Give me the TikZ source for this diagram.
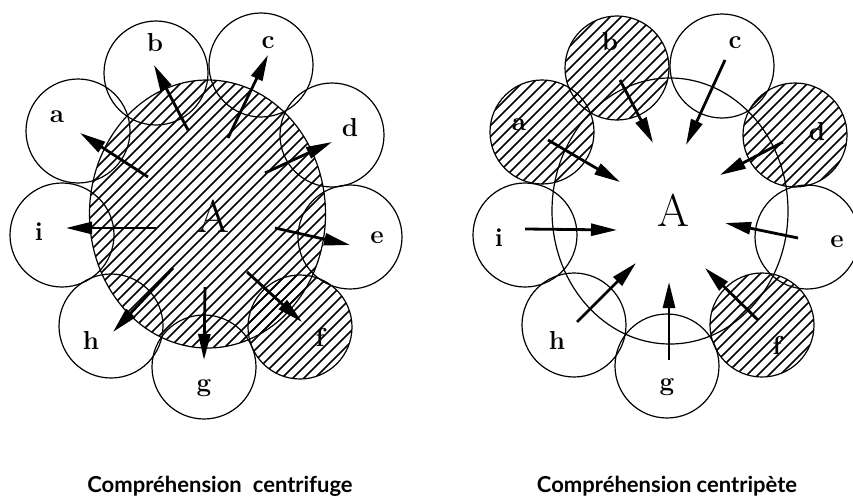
\documentclass[tikz,border=0pt]{standalone}
\usepackage{fontspec}
\newfontfamily\capfont{Lato}
\usetikzlibrary{arrows.meta}
% hatch lines x+y = 11k (45 degrees), clipped by the current scope
\newcommand\hatchlines[4]{%
  \foreach \k in {#1,...,#2}{\draw[hatchline] ({11*\k-(#3)},#3) -- ({11*\k-(#4)},#4);}}
\begin{document}
\begin{tikzpicture}[x=1pt,y=-1pt,
  ring/.style={draw,circle,line width=1.2pt,minimum size=104pt,inner sep=0pt},
  hatchline/.style={line width=1.5pt},
  lbl/.style={font=\bfseries\fontsize{26}{26}\selectfont,inner sep=0pt},
  bigA/.style={font=\fontsize{46}{46}\selectfont,inner sep=0pt},
  arr/.style={line width=2.8pt,-{Triangle[length=26pt,width=12pt]}},
  captext/.style={font=\capfont\bfseries\fontsize{22}{22}\selectfont,inner sep=0pt}]
\useasboundingbox (0,0) rectangle (853,503);

% ---------------- left : centrifuge ----------------
\begin{scope}
  \clip (207.5,214) ellipse [x radius=118, y radius=134];
  \hatchlines{13}{63}{76}{352}
\end{scope}
\begin{scope}
  \clip (300,327) circle (52);
  \hatchlines{48}{66}{272}{382}
\end{scope}
\draw[line width=1.2pt] (207.5,214) ellipse [x radius=118, y radius=134];
\foreach \n/\x/\y in {a/78/131,b/156/73,c/261/65,d/332/135,e/350/237,f/300/327,g/204/367,h/111/326,i/62/235}
  \node[ring] (L\n) at (\x,\y) {};
\foreach \n/\sx/\sy/\ex/\ey in {a/148/177/80/133, b/188/130/154/65, c/228/138/268/55, d/265/173/332/142, e/275/228/350/245, f/247/272/302/322, g/205/287/204/360, h/173/268/113/332, i/156/228/66/228}{
  \coordinate (Ls\n) at (\sx,\sy);
  \coordinate (Le\n) at (\ex,\ey);
  \draw[arr] (Ls\n) -- (Le\n);
}
\foreach \n/\x/\y in {a/57/117,b/155/43,c/268/43,d/350/128,e/377/238,f/320/337,g/204/388,h/91/340,i/39/232}
  \node[lbl] (Lt\n) at (\x,\y) {\n};
\node[bigA] (LA) at (213,216) {A};
\node[captext] (Lcap) at (220,486) {Compréhension\enspace centrifuge};

% ---------------- right : centripete ----------------
\foreach \x/\y/\ka/\kb in {542/132/52/70,617/68/53/71,795/135/75/93,762/325/89/108}{
  \begin{scope}
    \clip (\x,\y) circle (52);
    \hatchlines{\ka}{\kb}{\y-55}{\y+55}
  \end{scope}
}
\draw[line width=1.2pt] (670,211) ellipse [x radius=118, y radius=133];
\foreach \n/\x/\y in {a/542/132,b/617/68,c/722/66,d/795/135,e/807/237,f/762/325,g/667/366,h/574/325,i/525/235}
  \node[ring] (R\n) at (\x,\y) {};
\foreach \n/\sx/\sy/\ex/\ey in {a/548/140/620/182, b/620/80/653/143, c/725/60/686/145, d/783/142/720/175, e/798/238/725/223, f/758/320/705/268, g/669/360/669/282, h/577/322/636/263, i/525/229/617/230}{
  \coordinate (Rs\n) at (\sx,\sy);
  \coordinate (Re\n) at (\ex,\ey);
  \draw[arr] (Rs\n) -- (Re\n);
}
\foreach \n/\x/\y in {a/519/125,b/610/42,c/735/43,d/817/132,e/837/242,f/777/345,g/667/387,h/557/340,i/499/238}
  \node[lbl] (Rt\n) at (\x,\y) {\n};
\node[bigA] (RA) at (673,210) {A};
\node[captext] (Rcap) at (667,486) {Compréhension centripète};
\end{tikzpicture}
\end{document}
